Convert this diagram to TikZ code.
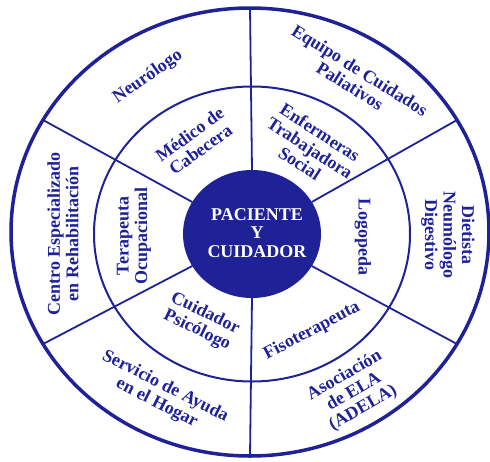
\documentclass[tikz,border=0pt]{standalone}
\usepackage{fontspec}
\setmainfont{Liberation Serif}
\usetikzlibrary{calc}
\definecolor{azul}{RGB}{30,34,150}
\begin{document}
\begin{tikzpicture}[x=1pt, y=-1pt,
    lbl/.style={text=azul, font=\bfseries\fontsize{18}{18.5}\selectfont, align=center, inner sep=0pt},
    ring/.style={draw=azul, line width=2pt}]
    \useasboundingbox (0,0) rectangle (490,461);
    \coordinate (o) at (250,232);
    \coordinate (c) at (252,234);

    % rings and spokes
    \draw[draw=azul, line width=3.5pt] (o) ellipse [x radius=239, y radius=224];
    \draw[ring] (c) ellipse [x radius=158, y radius=147.5];
    \foreach \a in {30,90,...,330}
        \draw[ring, line width=1.8pt] ($(c)+(\a:69 and 64)$) -- ($(o)+(\a:239 and 224)$);
    \fill[azul] (c) ellipse [x radius=69, y radius=64];

    \node[lbl, text=white] (paciente) at (257,233) {PACIENTE\\Y\\CUIDADOR};

    % inner ring
    \node[lbl, rotate=36] (medico) at (195,142) {Médico de\\Cabecera};
    \node[lbl, rotate=-33] (enfermeras) at (310,148) {Enfermeras\\Trabajadora\\Social};
    \node[lbl, rotate=90] (terapeuta) at (134,236) {Terapeuta\\Ocupacional};
    \node[lbl, rotate=-90] (logopeda) at (363,237) {Logopeda};
    \node[lbl, rotate=-26] (cuidador) at (201,322) {Cuidador\\Psicólogo};
    \node[lbl, rotate=28] (fisio) at (312,331) {Fisoterapeuta};

    % outer ring
    \node[lbl, rotate=35] (neuro) at (148,77) {Neurólogo};
    \node[lbl, rotate=-32] (paliativos) at (355,78) {Equipo de Cuidados\\Paliativos};
    \node[lbl, rotate=90] (centro) at (63,234) {Centro Especializado\\en Rehabilitación};
    \node[lbl, rotate=-90] (dietista) at (448,235) {Dietista\\Neumólogo\\Digestivo};
    \node[lbl, rotate=-27] (ayuda) at (161,395) {Servicio de Ayuda\\en el Hogar};
    \node[lbl, rotate=30] (adela) at (354,392) {Asociación\\de ELA\\(ADELA)};
\end{tikzpicture}
\end{document}
